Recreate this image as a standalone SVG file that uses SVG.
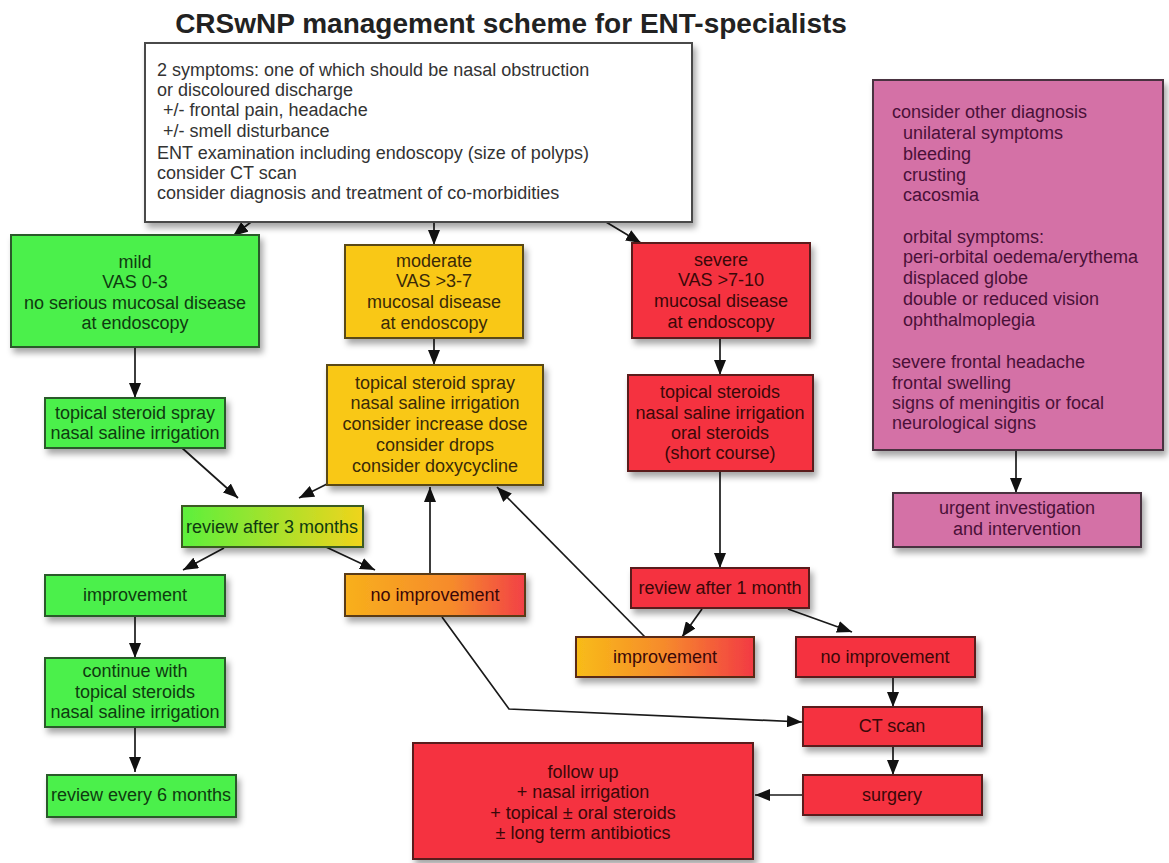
<svg xmlns="http://www.w3.org/2000/svg" width="1169" height="863" viewBox="0 0 1169 863">
<defs>
<style>
text{font-family:"Liberation Sans",Arial,Helvetica,sans-serif;font-size:18px}
.title{font-size:28px;font-weight:bold;fill:#222}
.c{text-anchor:middle}
.wb{fill:#ffffff;stroke:#4a4a4a;stroke-width:2}
.wt{fill:#333}
.gb{fill:#4cf04c;stroke:#2c5a2c;stroke-width:2}
.gt{fill:#0f3a10}
.yb{fill:#f9c817;stroke:#5a4a14;stroke-width:2}
.yt{fill:#3a2a08}
.rb{fill:#f5333f;stroke:#5a1a1a;stroke-width:2}
.rt{fill:#3a0808}
.pb{fill:#d471a6;stroke:#4a3040;stroke-width:2}
.pt{fill:#4a1038}
.conn{fill:none;stroke:#1a1a1a;stroke-width:1.7;marker-end:url(#ah)}
</style>
<marker id="ah" markerUnits="userSpaceOnUse" markerWidth="16" markerHeight="12" refX="15" refY="6" orient="auto">
<path d="M0,0 L15,6 L0,12 z" fill="#111"/>
</marker>
<filter id="sh" x="-10%" y="-10%" width="130%" height="140%">
<feDropShadow dx="3" dy="5" stdDeviation="3" flood-color="#000" flood-opacity="0.35"/>
</filter>
<linearGradient id="gy" x1="0" y1="0" x2="1" y2="0">
<stop offset="0" stop-color="#5cf03c"/>
<stop offset="1" stop-color="#f0d41c"/>
</linearGradient>
<linearGradient id="or" x1="0" y1="0" x2="1" y2="0">
<stop offset="0" stop-color="#f8b01c"/>
<stop offset="0.6" stop-color="#f68a2c"/>
<stop offset="1" stop-color="#f24046"/>
</linearGradient>
<linearGradient id="yr" x1="0" y1="0" x2="1" y2="0">
<stop offset="0" stop-color="#f8bc18"/>
<stop offset="0.5" stop-color="#f68a2c"/>
<stop offset="1" stop-color="#f23a44"/>
</linearGradient>
</defs>
<rect width="1169" height="863" fill="#ffffff"/>
<text class="title c" x="511" y="33">CRSwNP management scheme for ENT-specialists</text>

<g id="connectors">
<line class="conn" x1="251" y1="222" x2="233" y2="236"/>
<line class="conn" x1="434" y1="222" x2="434" y2="245"/>
<line class="conn" x1="606" y1="222" x2="641" y2="243"/>
<line class="conn" x1="135" y1="347" x2="135" y2="398"/>
<line class="conn" x1="434" y1="338" x2="434" y2="365"/>
<line class="conn" x1="720" y1="338" x2="720" y2="375"/>
<line class="conn" x1="181" y1="447" x2="238" y2="498"/>
<line class="conn" x1="327" y1="484" x2="299" y2="498"/>
<line class="conn" x1="224" y1="548" x2="183" y2="570"/>
<line class="conn" x1="326" y1="547" x2="375" y2="570"/>
<line class="conn" x1="430" y1="574" x2="430" y2="487"/>
<line class="conn" x1="135" y1="616" x2="135" y2="658"/>
<line class="conn" x1="135" y1="727" x2="135" y2="772"/>
<polyline class="conn" points="442,617 509,709 802,722"/>
<line class="conn" x1="720" y1="471" x2="720" y2="568"/>
<line class="conn" x1="702" y1="609" x2="682" y2="637"/>
<line class="conn" x1="788" y1="609" x2="852" y2="632"/>
<line class="conn" x1="645" y1="637" x2="497" y2="487"/>
<line class="conn" x1="893" y1="677" x2="893" y2="707"/>
<line class="conn" x1="893" y1="746" x2="893" y2="775"/>
<line class="conn" x1="803" y1="795" x2="755" y2="795"/>
<line class="conn" x1="1016" y1="450" x2="1016" y2="493"/>
</g>

<g id="symptoms">
<rect class="wb" x="145" y="43" width="547" height="179" filter="url(#sh)"/>
<text class="wt" x="157" y="76">2 symptoms: one of which should be nasal obstruction</text>
<text class="wt" x="157" y="96">or discoloured discharge</text>
<text class="wt" x="163" y="116">+/- frontal pain, headache</text>
<text class="wt" x="163" y="137">+/- smell disturbance</text>
<text class="wt" x="157" y="159">ENT examination including endoscopy (size of polyps)</text>
<text class="wt" x="157" y="179">consider CT scan</text>
<text class="wt" x="157" y="199">consider diagnosis and treatment of co-morbidities</text>
</g>

<g id="mild">
<rect class="gb" x="11" y="235" width="248" height="112" filter="url(#sh)"/>
<text class="gt c" x="135" y="268">mild</text>
<text class="gt c" x="135" y="288">VAS 0-3</text>
<text class="gt c" x="135" y="309">no serious mucosal disease</text>
<text class="gt c" x="135" y="329">at endoscopy</text>
</g>

<g id="moderate">
<rect class="yb" x="345" y="245" width="178" height="93" filter="url(#sh)"/>
<text class="yt c" x="434" y="267">moderate</text>
<text class="yt c" x="434" y="287">VAS &gt;3-7</text>
<text class="yt c" x="434" y="308">mucosal disease</text>
<text class="yt c" x="434" y="329">at endoscopy</text>
</g>

<g id="severe">
<rect class="rb" x="632" y="243" width="178" height="95" filter="url(#sh)"/>
<text class="rt c" x="721" y="266">severe</text>
<text class="rt c" x="721" y="286">VAS &gt;7-10</text>
<text class="rt c" x="721" y="307">mucosal disease</text>
<text class="rt c" x="721" y="328">at endoscopy</text>
</g>

<g id="other-diagnosis">
<rect class="pb" x="873" y="80" width="290" height="370" filter="url(#sh)"/>
<text class="pt" x="892" y="118">consider other diagnosis</text>
<text class="pt" x="903" y="139">unilateral symptoms</text>
<text class="pt" x="903" y="160">bleeding</text>
<text class="pt" x="903" y="181">crusting</text>
<text class="pt" x="903" y="201">cacosmia</text>
<text class="pt" x="903" y="243">orbital symptoms:</text>
<text class="pt" x="903" y="263">peri-orbital oedema/erythema</text>
<text class="pt" x="903" y="284">displaced globe</text>
<text class="pt" x="903" y="305">double or reduced vision</text>
<text class="pt" x="903" y="326">ophthalmoplegia</text>
<text class="pt" x="892" y="368">severe frontal headache</text>
<text class="pt" x="892" y="389">frontal swelling</text>
<text class="pt" x="892" y="409">signs of meningitis or focal</text>
<text class="pt" x="892" y="429">neurological signs</text>
</g>

<g id="urgent">
<rect class="pb" x="893" y="493" width="248" height="54" filter="url(#sh)"/>
<text class="pt c" x="1017" y="514">urgent investigation</text>
<text class="pt c" x="1017" y="535">and intervention</text>
</g>

<g id="mild-treatment">
<rect class="gb" x="45" y="398" width="180" height="50" filter="url(#sh)"/>
<text class="gt c" x="135" y="419">topical steroid spray</text>
<text class="gt c" x="135" y="439">nasal saline irrigation</text>
</g>

<g id="moderate-treatment">
<rect class="yb" x="327" y="365" width="216" height="120" filter="url(#sh)"/>
<text class="yt c" x="435" y="389">topical steroid spray</text>
<text class="yt c" x="435" y="409">nasal saline irrigation</text>
<text class="yt c" x="435" y="430">consider increase dose</text>
<text class="yt c" x="435" y="451">consider drops</text>
<text class="yt c" x="435" y="472">consider doxycycline</text>
</g>

<g id="severe-treatment">
<rect class="rb" x="628" y="375" width="185" height="96" filter="url(#sh)"/>
<text class="rt c" x="720" y="398">topical steroids</text>
<text class="rt c" x="720" y="419">nasal saline irrigation</text>
<text class="rt c" x="720" y="439">oral steroids</text>
<text class="rt c" x="720" y="459">(short course)</text>
</g>

<g id="review-3-months">
<rect x="182" y="506" width="181" height="41" fill="url(#gy)" stroke="#3a5a20" stroke-width="2" filter="url(#sh)"/>
<text class="gt c" x="272" y="533">review after 3 months</text>
</g>

<g id="improvement-mild">
<rect class="gb" x="45" y="575" width="180" height="41" filter="url(#sh)"/>
<text class="gt c" x="135" y="601">improvement</text>
</g>

<g id="no-improvement-moderate">
<rect x="345" y="574" width="180" height="42" fill="url(#or)" stroke="#5a3a14" stroke-width="2" filter="url(#sh)"/>
<text class="rt c" x="435" y="601">no improvement</text>
</g>

<g id="continue">
<rect class="gb" x="45" y="658" width="180" height="69" filter="url(#sh)"/>
<text class="gt c" x="135" y="677">continue with</text>
<text class="gt c" x="135" y="698">topical steroids</text>
<text class="gt c" x="135" y="718">nasal saline irrigation</text>
</g>

<g id="review-6-months">
<rect class="gb" x="47" y="775" width="189" height="42" filter="url(#sh)"/>
<text class="gt c" x="141" y="801">review every 6 months</text>
</g>

<g id="review-1-month">
<rect class="rb" x="631" y="568" width="178" height="40" filter="url(#sh)"/>
<text class="rt c" x="720" y="594">review after 1 month</text>
</g>

<g id="improvement-severe">
<rect x="576" y="637" width="178" height="40" fill="url(#yr)" stroke="#5a2a14" stroke-width="2" filter="url(#sh)"/>
<text class="rt c" x="665" y="663">improvement</text>
</g>

<g id="no-improvement-severe">
<rect class="rb" x="796" y="637" width="179" height="40" filter="url(#sh)"/>
<text class="rt c" x="885" y="663">no improvement</text>
</g>

<g id="ct-scan">
<rect class="rb" x="803" y="707" width="179" height="39" filter="url(#sh)"/>
<text class="rt c" x="892" y="732">CT scan</text>
</g>

<g id="surgery">
<rect class="rb" x="803" y="775" width="179" height="40" filter="url(#sh)"/>
<text class="rt c" x="892" y="801">surgery</text>
</g>

<g id="follow-up">
<rect class="rb" x="413" y="743" width="340" height="116" filter="url(#sh)"/>
<text class="rt c" x="583" y="778">follow up</text>
<text class="rt c" x="583" y="798">+ nasal irrigation</text>
<text class="rt c" x="583" y="819">+ topical ± oral steroids</text>
<text class="rt c" x="583" y="839">± long term antibiotics</text>
</g>
</svg>
